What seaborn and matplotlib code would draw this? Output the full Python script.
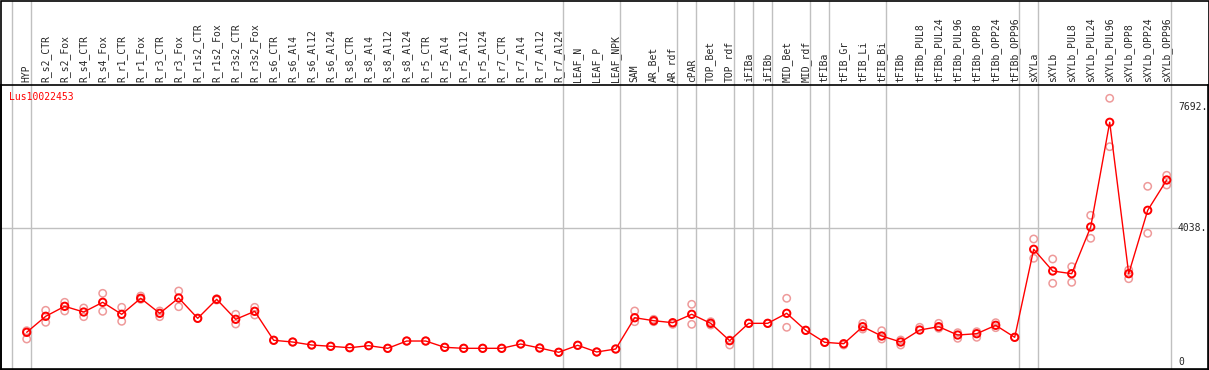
import numpy as np
import pandas as pd
import matplotlib.pyplot as plt
import matplotlib.transforms as mtransforms
from matplotlib.patches import Rectangle
import seaborn as sns

# sample names along the x axis
samples = ["HYP", "R_s2_CTR", "R_s2_Fox", "R_s4_CTR", "R_s4_Fox", "R_r1_CTR", "R_r1_Fox",
           "R_r3_CTR", "R_r3_Fox", "R_r1s2_CTR", "R_r1s2_Fox", "R_r3s2_CTR", "R_r3s2_Fox",
           "R_s6_CTR", "R_s6_Al4", "R_s6_Al12", "R_s6_Al24", "R_s8_CTR", "R_s8_Al4",
           "R_s8_Al12", "R_s8_Al24", "R_r5_CTR", "R_r5_Al4", "R_r5_Al12", "R_r5_Al24",
           "R_r7_CTR", "R_r7_Al4", "R_r7_Al12", "R_r7_Al24", "LEAF_N", "LEAF_P", "LEAF_NPK",
           "SAM", "AR_Bet", "AR_rdf", "cPAR", "TOP_Bet", "TOP_rdf", "iFIBa", "iFIBb",
           "MID_Bet", "MID_rdf", "tFIBa", "tFIB_Gr", "tFIB_Li", "tFIB_Bi", "tFIBb",
           "tFIBb_PUL8", "tFIBb_PUL24", "tFIBb_PUL96", "tFIBb_OPP8", "tFIBb_OPP24",
           "tFIBb_OPP96", "sXYLa", "sXYLb", "sXYLb_PUL8", "sXYLb_PUL24", "sXYLb_PUL96",
           "sXYLb_OPP8", "sXYLb_OPP24", "sXYLb_OPP96"]

# mean expression per sample
means = [887, 1370, 1671, 1499, 1792, 1430, 1913, 1460, 1922, 1309, 1882, 1279, 1520,
         646, 594, 504, 465, 422, 483, 404, 624, 624, 434, 404, 404, 404, 534, 413, 284,
         495, 293, 383,
         1327, 1237, 1177, 1430, 1158, 634, 1158, 1158, 1460, 947, 585, 543, 1056, 775, 594,
         956, 1056, 805, 845, 1098, 736,
         3391, 2736, 2655, 4064, 7222, 2655, 4567, 5481]

# replicate values per sample
reps = [[935, 685], [1551, 1189], [1792, 1530], [1620, 1358], [2063, 1520], [1641, 1219],
        [1982, 1882], [1530, 1358], [2133, 1659], [1309], [1900, 1860], [1430, 1137],
        [1641, 1409],
        [646], [594], [504], [465], [422], [483], [404], [624], [624], [434], [404], [404],
        [404], [534], [413], [284], [495], [293], [383],
        [1530, 1207], [1279, 1207], [1128], [1732, 1128], [1207, 1107], [655, 504], [1158],
        [1158], [1913, 1038], [947], [585], [504], [1158, 986], [935, 685], [655, 504],
        [1038], [1158, 1008], [875, 706], [905, 736], [1177, 1026], [736],
        [3702, 3119], [3098, 2365], [2866, 2395], [4416, 3723], [7946, 6486], [2766, 2504],
        [5291, 3873], [5623, 5330]]

# index of the last sample in each group (gray separators)
group_ends = [-1, 0, 28, 31, 34, 35, 37, 38, 39, 41, 42, 45, 52, 53, 60]

ytick_vals = [7692, 4038, 0]
ytick_labels = ["7692.", "4038.", "0"]
gene = "Lus10022453"

sns.set_style("white")
plt.rcParams["font.family"] = ["DejaVu Sans Mono"]

df = pd.DataFrame({"pos": np.arange(len(samples)), "value": means})
rep_df = pd.DataFrame([(i, v) for i, r in enumerate(reps) for v in r], columns=["pos", "value"])

W, H = 1209, 370
fig = plt.figure(figsize=(W / 100, H / 100), dpi=100)
ax = fig.add_axes([1 / W, 1 / H, 1207 / W, 284 / H])

# replicates, then the mean line and mean markers
sns.scatterplot(data=rep_df, x="pos", y="value", ax=ax, s=28, marker="o",
                facecolor="none", edgecolor="#ee9a9a", linewidth=1.1, zorder=3)
sns.lineplot(data=df, x="pos", y="value", ax=ax, color="red", linewidth=1, zorder=4)
sns.scatterplot(data=df, x="pos", y="value", ax=ax, s=28, marker="o",
                facecolor="none", edgecolor="red", linewidth=1.4, zorder=5)

ax.set_xlim((1 - 26.7) / 19, (1208 - 26.7) / 19)
ax.set_ylim(-220, 8347)

# gray separators, extended up through the label area
extra = 1 + 84 / 284
for g in group_ends:
    ax.axvline(g + 0.2, ymin=0, ymax=extra, color="#c0c0c0", lw=1, clip_on=False, zorder=1)
ax.axhline(ytick_vals[1], xmax=1177 / 1207, color="#c0c0c0", lw=1, zorder=1)

# sample labels on top
ax.xaxis.tick_top()
ax.set_xticks(df["pos"])
ax.set_xticklabels(samples, rotation=90, fontsize=7)
ax.tick_params(axis="x", length=0, pad=2)
ax.set_yticks([])
ax.set_xlabel("")
ax.set_ylabel("")

# value labels on the right, inside the frame
trans = mtransforms.blended_transform_factory(ax.transAxes, ax.transData)
for v, lab in zip(ytick_vals, ytick_labels):
    ax.text(1177 / 1207, v, lab, transform=trans, fontsize=7, ha="left", va="center")

ax.text(8 / 1207, 1 - 12 / 284, gene, transform=ax.transAxes, color="red",
        fontsize=7, ha="left", va="center")

for sp in ax.spines.values():
    sp.set_color("black")
    sp.set_linewidth(1.2)

fig.add_artist(Rectangle((0.5 / W, 0.5 / H), 1 - 1 / W, 1 - 1 / H, transform=fig.transFigure,
                         fill=False, ec="black", lw=1.2))

fig.savefig("out.png", dpi=100)
